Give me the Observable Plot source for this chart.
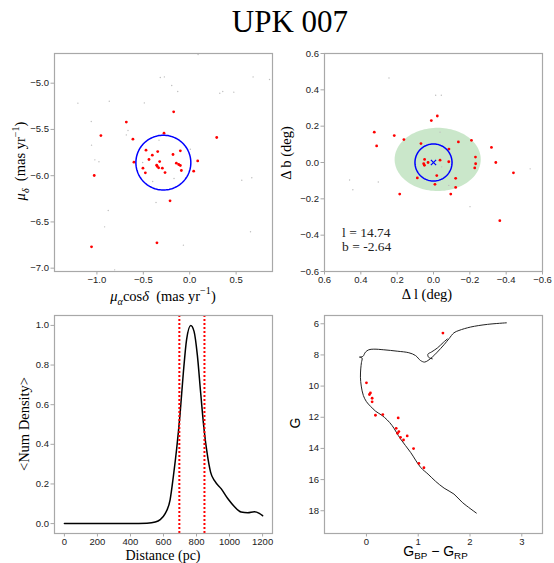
<!DOCTYPE html>
<html><head><meta charset="utf-8">
<script src="https://cdn.jsdelivr.net/npm/d3@7"></script>
<script src="https://cdn.jsdelivr.net/npm/@observablehq/plot@0.6"></script>
<style>
body{margin:0;background:#fff;}
#fig{position:relative;width:554px;height:563px;overflow:hidden;background:#fff}
#title{position:absolute;left:0;width:580px;top:6px;line-height:31px;text-align:center;font-family:"Liberation Serif","Times New Roman",serif;font-size:31px;color:#000}
.panel{position:absolute}
.panel svg{overflow:visible}
</style></head><body>
<div id="fig"><div id="title">UPK 007</div></div>
<script>
// ---------- data ----------
const titleText = "UPK 007";
// Panel 1: proper motions (members)
const pmRA = [-0.173,-0.683,-0.957,-0.277,0.291,-0.612,-0.471,-0.345,-0.180,-0.101,-0.403,-0.439,-0.601,-0.324,-0.144,-0.119,-0.101,0.086,-0.356,-0.349,-0.335,-0.504,-0.295,-0.090,0.043,-0.478,-0.266,-1.029,-0.212,-0.353,-1.058];
const pmDE = [-5.31,-5.42,-5.566,-5.54,-5.587,-5.605,-5.724,-5.739,-5.771,-5.731,-5.778,-5.825,-5.854,-5.847,-5.865,-5.879,-5.89,-5.84,-5.886,-5.90,-5.915,-5.919,-5.919,-5.944,-5.951,-5.969,-5.966,-5.998,-6.272,-6.726,-6.769];
// Panel 1: field stars
const pmBgRA = [-1.205,-0.867,-0.489,-0.317,-0.273,-0.194,-0.129,0.090,0.324,0.356,0.475,0.683,0.86,-1.061,-0.665,-0.683,-1.058,-1.022,-0.978,0.007,-0.507,-0.399,-0.169,-0.363,-0.878,-0.917,-0.068,-0.809,0.561,0.669,0.655,-0.331];
const pmBgDE = [-5.216,-5.195,-5.213,-4.939,-4.932,-5.025,-5.09,-4.69,-5.108,-5.09,-5.097,-4.932,-4.96,-5.414,-5.512,-5.559,-5.67,-5.829,-5.85,-5.714,-5.858,-6.063,-6.031,-6.29,-6.377,-6.553,-6.751,-7.018,-6.049,-6.023,-6.607,-5.616];
const pmCenter = [-0.284, -5.859];
const pmRadius = 0.296;
const pmXDomain = [-1.457, 0.892];
const pmYDomain = [-7.036, -4.679];
const pmXTicks = [-1.0, -0.5, 0.0, 0.5];
const pmYTicks = [-7.0, -6.5, -6.0, -5.5, -5.0];

// Panel 2: positions relative to centre (members)
const dL = [0.326,0.313,0.216,0.163,0.069,0.012,-0.021,-0.085,-0.137,-0.209,-0.231,-0.232,-0.227,-0.319,-0.343,-0.440,-0.365,0.049,0.054,0.050,0.030,-0.036,-0.084,-0.018,0.089,-0.008,-0.122,-0.122,-0.095,0.186];
const dB = [0.167,0.091,0.148,0.126,0.104,0.231,0.256,0.074,0.113,0.122,0.030,-0.007,-0.030,0.083,0.000,-0.057,-0.320,0.017,-0.007,-0.015,0.000,0.013,0.004,-0.072,-0.085,-0.120,-0.087,-0.137,-0.174,-0.174];
// Panel 2: field stars
const dLBg = [0.245,-0.012,-0.043,-0.036,0.462,0.444,0.304,-0.084,-0.201,-0.532,-0.045,-0.104];
const dBBg = [0.465,0.370,0.370,0.167,-0.096,-0.150,-0.107,-0.126,-0.243,-0.035,-0.024,0.002];
const coreRadius = 0.102;
const ellCenter = [-0.023, 0.017];
const ellAxes = [0.237, 0.174];
const posTicks = [-0.6, -0.4, -0.2, 0.0, 0.2, 0.4, 0.6];
const posDomain = [0.6, -0.6];
const galLabels = ["l = 14.74", "b = -2.64"];
const galLabelX = 0.503;
const galLabelY = [-0.387, -0.461];

// Panel 3: distance density
const distPc = [0,100,200,300,400,500,550,580,610,640,660,680,700,720,740,765,785,805,825,845,865,885,910,950,990,1030,1070,1110,1150,1180,1200];
const numDens = [0,0,0,0,0,0.002,0.008,0.02,0.05,0.12,0.24,0.38,0.55,0.76,0.93,1.0,0.97,0.85,0.66,0.48,0.35,0.26,0.215,0.175,0.125,0.085,0.058,0.055,0.06,0.052,0.04];
const distLimits = [696, 848];
const distTicks = [0,200,400,600,800,1000,1200];
const densTicks = [0.0,0.2,0.4,0.6,0.8,1.0];

// Panel 4: CMD
const cmdBR = [1.477,0.0,0.077,0.058,0.11,0.11,0.174,0.316,0.613,0.574,0.626,0.60,0.658,0.716,0.787,0.91,1.013,1.11];
const cmdG  = [6.6,9.79,10.44,10.54,10.78,11.01,11.87,11.83,12.04,12.71,12.92,13.03,13.29,13.46,13.2,14.01,14.96,15.24];
const isoBR = [2.123,1.85,1.69,1.5,1.335,1.19,1.045,0.852,0.658,0.497,0.40,0.30,0.18,0.08,0.0,-0.06,-0.1,-0.116,-0.11,-0.097,-0.085,-0.135,-0.07,-0.019,0.045,0.142,0.335,0.594,0.819,0.948,1.045,1.123,1.187,1.271,1.368,1.497,1.594,1.69,1.787,2.013,2.335,2.703];
const isoG  = [18.15,17.46,16.93,16.55,16.11,15.65,15.21,14.25,13.39,12.54,12.17,11.88,11.62,11.3,11.0,10.6,10.0,9.43,8.9,8.5,8.2,8.14,8.1,7.82,7.67,7.63,7.67,7.76,7.86,8.04,8.36,8.46,8.36,8.14,7.82,7.35,6.96,6.58,6.43,6.21,6.04,5.94];
const loopBR = [1.271,1.2,1.187,1.252,1.368,1.484,1.561];
const loopG  = [8.25,8.15,7.95,7.82,7.56,7.2,6.98];
const cmdXTicks = [0,1,2,3];
const cmdYTicks = [6,8,10,12,14,16,18];
const cmdXDomain = [-0.81, 3.40];
const cmdYDomain = [19.46, 5.47];

// ---------- helpers ----------
const fig = document.getElementById("fig");
const fmt1 = d3.format(".1f");
const fmtInt = d3.format("d");
const FRAME = "#a8a8a8";
const TICKFONT = "Liberation Sans, Arial, sans-serif";
const SERIF = "Liberation Serif, Times New Roman, serif";
const SANS = "Liberation Sans, Arial, sans-serif";

function axes(xt, xf, yt, yf) {
  return [
    Plot.axisX({ticks: xt, tickFormat: xf, tickSize: 3.5, tickPadding: 1, stroke: FRAME, fill: "#222", fontSize: 9.5, label: null}),
    Plot.axisY({ticks: yt, tickFormat: yf, tickSize: 3.5, tickPadding: 2, stroke: FRAME, fill: "#222", fontSize: 9.5, label: null})
  ];
}

function makePanel(pos, opts) {
  const svg = Plot.plot({
    ...opts,
    width: pos.w, height: pos.h,
    marginLeft: pos.mL, marginRight: pos.mR, marginTop: pos.mT, marginBottom: pos.mB,
    style: {fontFamily: TICKFONT, fontSize: "9.5px", color: "#222", background: "transparent"}
  });
  const wrap = document.createElement("div");
  wrap.className = "panel";
  wrap.style.left = pos.left + "px";
  wrap.style.top = pos.top + "px";
  wrap.appendChild(svg);
  fig.appendChild(wrap);
  return svg;
}

function label(svg, x, y, rot, family, size, parts, subShift = 0.3) {
  const t = d3.select(svg).append("text")
    .attr("text-anchor", "middle")
    .attr("font-family", family)
    .attr("font-size", size)
    .attr("fill", "#000")
    .attr("transform", `translate(${x},${y}) rotate(${rot})`);
  let shift = 0;
  for (const p of parts) {
    const target = p.sub ? subShift * size : p.sup ? -0.42 * size : 0;
    const ts = t.append("tspan").text(p.t).attr("dy", target - shift);
    shift = target;
    if (p.sub || p.sup) ts.attr("font-size", size * 0.7);
    if (p.italic) ts.attr("font-style", "italic");
    if (p.family) ts.attr("font-family", p.family);
  }
}

const circlePts = (c, r) => d3.range(0, 361, 3).map(a => ({x: c[0] + r * Math.cos(a * Math.PI / 180), y: c[1] + r * Math.sin(a * Math.PI / 180)}));
const ellipsePts = (c, ax) => d3.range(0, 360, 3).map(a => ({x: c[0] + ax[0] * Math.cos(a * Math.PI / 180), y: c[1] + ax[1] * Math.sin(a * Math.PI / 180)}));

const TL = {left: 0, top: 40, w: 277, h: 270, mL: 54, mR: 5, mT: 13, mB: 39};
const TR = {left: 277, top: 40, w: 277, h: 270, mL: 47, mR: 12, mT: 13, mB: 39};
const BL = {left: 0, top: 302, w: 277, h: 261, mL: 54, mR: 5, mT: 13, mB: 30};
const BR = {left: 277, top: 302, w: 277, h: 261, mL: 47, mR: 12, mT: 13, mB: 30};

// ---------- panel 1 ----------
const pmBg = pmBgRA.map((v, i) => ({x: v, y: pmBgDE[i]}));
const pmMem = pmRA.map((v, i) => ({x: v, y: pmDE[i]}));
const s1 = makePanel(TL, {
  x: {domain: pmXDomain, axis: null},
  y: {domain: pmYDomain, axis: null},
  marks: [
    Plot.dot(pmBg, {x: "x", y: "y", r: 0.7, fill: "#bdbdbd", stroke: "none"}),
    Plot.dot(pmMem, {x: "x", y: "y", r: 1.4, fill: "red", stroke: "none"}),
    Plot.line(circlePts(pmCenter, pmRadius), {x: "x", y: "y", stroke: "blue", strokeWidth: 1.5}),
    ...axes(pmXTicks, fmt1, pmYTicks, fmt1),
    Plot.frame({stroke: FRAME, strokeWidth: 1.2})
  ]
});
label(s1, 163, 260.5, 0, SERIF, 14.5, [
  {t: "μ", italic: true}, {t: "α", italic: true, sub: true}, {t: "cos"}, {t: "δ", italic: true},
  {t: "\u00a0\u00a0(mas yr"}, {t: "−1", sup: true}, {t: ")"}
]);
label(s1, 25, 121, -90, SERIF, 14.5, [
  {t: "μ", italic: true}, {t: "δ", italic: true, sub: true},
  {t: "\u00a0\u00a0(mas yr"}, {t: "−1", sup: true}, {t: ")"}
]);

// ---------- panel 2 ----------
const posBg = dLBg.map((v, i) => ({x: v, y: dBBg[i]}));
const posMem = dL.map((v, i) => ({x: v, y: dB[i]}));
const s2 = makePanel(TR, {
  x: {domain: posDomain, axis: null},
  y: {domain: [-0.6, 0.6], axis: null},
  marks: [
    Plot.line(ellipsePts(ellCenter, ellAxes), {x: "x", y: "y", fill: "#2ca02c", fillOpacity: 0.25, stroke: "none", curve: "linear-closed"}),
    Plot.dot(posBg, {x: "x", y: "y", r: 0.7, fill: "#bdbdbd", stroke: "none"}),
    Plot.dot(posMem, {x: "x", y: "y", r: 1.4, fill: "red", stroke: "none"}),
    Plot.line(circlePts([0, 0], coreRadius), {x: "x", y: "y", stroke: "blue", strokeWidth: 1.5}),
    Plot.dot([{x: 0, y: 0}], {x: "x", y: "y", symbol: "times", r: 2.5, stroke: "blue", strokeWidth: 1.2}),
    Plot.text(galLabels, {x: () => galLabelX, y: (d, i) => galLabelY[i], text: d => d, textAnchor: "start", fontFamily: SERIF, fontSize: 13.5, fill: "#222"}),
    ...axes(posTicks, fmt1, posTicks, fmt1),
    Plot.frame({stroke: FRAME, strokeWidth: 1.2})
  ]
});
label(s2, 150, 258.5, 0, SERIF, 14.5, [{t: "Δ l (deg)"}]);
label(s2, 14, 113, -90, SERIF, 14.5, [{t: "Δ b (deg)"}]);

// ---------- panel 3 ----------
const dens = distPc.map((v, i) => ({x: v, y: numDens[i]}));
const s3 = makePanel(BL, {
  x: {domain: [-60, 1260], axis: null},
  y: {domain: [-0.05, 1.05], axis: null},
  marks: [
    Plot.line(dens, {x: "x", y: "y", stroke: "black", strokeWidth: 1.5, curve: "monotone-x"}),
    Plot.ruleX(distLimits, {stroke: "red", strokeWidth: 2, strokeDasharray: "2,2"}),
    ...axes(distTicks, fmtInt, densTicks, fmt1),
    Plot.frame({stroke: FRAME, strokeWidth: 1.2})
  ]
});
label(s3, 163, 257.5, 0, SERIF, 14, [{t: "Distance (pc)"}]);
label(s3, 29, 122, -90, SERIF, 14.5, [{t: "<Num Density>"}]);

// ---------- panel 4 ----------
const iso = isoBR.map((v, i) => ({x: v, y: isoG[i], z: "main"}))
  .concat(loopBR.map((v, i) => ({x: v, y: loopG[i], z: "loop"})));
const cmd = cmdBR.map((v, i) => ({x: v, y: cmdG[i]}));
const s4 = makePanel(BR, {
  x: {domain: cmdXDomain, axis: null},
  y: {domain: cmdYDomain, axis: null},
  marks: [
    Plot.line(iso, {x: "x", y: "y", z: "z", stroke: "#222", strokeWidth: 1, curve: "catmull-rom"}),
    Plot.dot(cmd, {x: "x", y: "y", r: 1.4, fill: "red", stroke: "none"}),
    ...axes(cmdXTicks, fmtInt, cmdYTicks, fmtInt),
    Plot.frame({stroke: FRAME, strokeWidth: 1.2})
  ]
});
label(s4, 158.5, 254, 0, SANS, 14, [
  {t: "G"}, {t: "BP", sub: true}, {t: " − G"}, {t: "RP", sub: true}
], 0.24);
label(s4, 23, 121, -90, SANS, 14, [{t: "G"}]);
</script>
</body></html>
